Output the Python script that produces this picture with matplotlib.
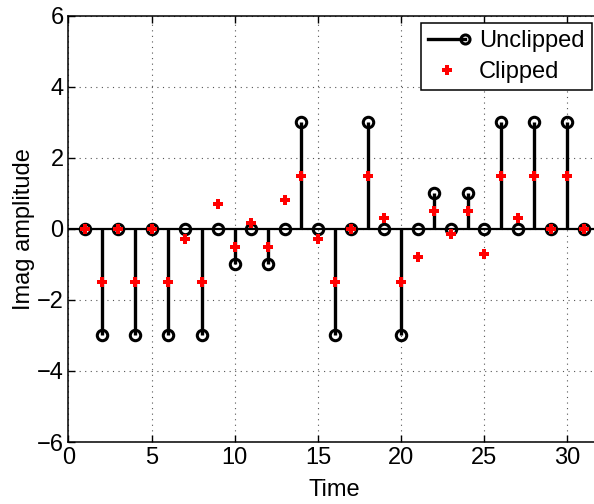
import matplotlib
matplotlib.use("Agg")
import matplotlib.pyplot as plt
from matplotlib.lines import Line2D
from matplotlib.legend_handler import HandlerLine2D

time = list(range(1, 32))
unclipped = [0, -3, 0, -3, 0, -3, 0, -3, 0, -1, 0, -1, 0, 3, 0, -3,
             0, 3, 0, -3, 0, 1, 0, 1, 0, 3, 0, 3, 0, 3, 0]
clipped = [0, -1.5, 0, -1.5, 0, -1.5, -0.3, -1.5, 0.7, -0.5, 0.15, -0.5, 0.8, 1.5, -0.3, -1.5,
           0, 1.5, 0.3, -1.5, -0.8, 0.5, -0.15, 0.5, -0.7, 1.5, 0.3, 1.5, 0, 1.5, 0]


class StemLegendHandler(HandlerLine2D):
    # line with the circle only at its right end, like a stem seen sideways
    def create_artists(self, legend, orig_handle, xdescent, ydescent, width, height,
                       fontsize, trans):
        arts = super().create_artists(legend, orig_handle, xdescent, ydescent, width,
                                      height, fontsize, trans)
        for a in arts:
            a.set_markevery([len(a.get_xdata()) - 1])
        return arts


plt.rcParams['font.family'] = ['Liberation Sans', 'DejaVu Sans']
plt.rcParams['font.size'] = 17

fig = plt.figure(figsize=(5.94, 5.04), dpi=100)
ax = fig.add_axes([0.1153, 0.123, 0.896, 0.846])

ax.axhline(0, color='k', lw=1.6, zorder=2)
markers, stems, base = ax.stem(time, unclipped, linefmt='k-', markerfmt='ko', basefmt=' ')
stems.set_linewidth(2.4)
stems.set_zorder(3)
markers.set_markerfacecolor('none')
markers.set_markeredgewidth(2.2)
markers.set_markersize(7.5)
markers.set_zorder(4)
base.set_visible(False)

ax.plot(time, clipped, linestyle='none', marker='P', color='red', markersize=7,
        markeredgewidth=0, zorder=5)

ax.set_xlim(0, 32)
ax.set_ylim(-6, 6)
ax.set_xticks(range(0, 31, 5))
ax.set_yticks(range(-6, 7, 2))
ax.grid(True, linestyle=(0, (1, 4)), color='#555555', linewidth=0.8)
ax.set_axisbelow(True)
ax.tick_params(direction='in', top=True, right=True, length=5, width=1, labelsize=17)
for s in ax.spines.values():
    s.set_linewidth(1.1)
ax.set_xlabel('Time', fontsize=17, labelpad=7)
ax.set_ylabel('Imag amplitude', fontsize=17, labelpad=1)

h1 = Line2D([], [], color='k', lw=2.4, marker='o', mfc='none', mec='k', mew=2.2,
            markersize=6.5)
h2 = Line2D([], [], linestyle='none', marker='P', color='red', markersize=7, markeredgewidth=0)
leg = ax.legend([h1, h2], ['Unclipped', 'Clipped'], loc='upper left',
                bbox_to_anchor=(0.663, 0.982),
                handler_map={h1: StemLegendHandler(numpoints=2, marker_pad=0)},
                numpoints=1, fancybox=False, framealpha=1, edgecolor='k',
                handlelength=1.55, handletextpad=0.6, borderpad=0.3, labelspacing=0.38,
                borderaxespad=0, fontsize=17)
leg.get_frame().set_linewidth(1.1)

fig.savefig('out.png', dpi=100)
